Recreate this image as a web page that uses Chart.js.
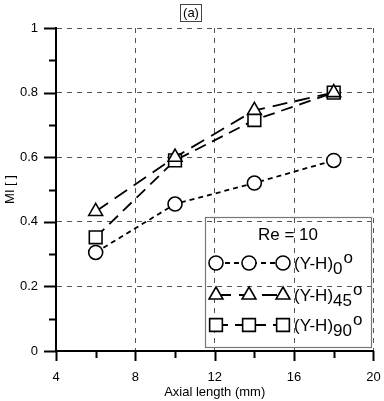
<!DOCTYPE html>
<html>
<head>
<meta charset="utf-8">
<script src="https://cdn.jsdelivr.net/npm/chart.js@4/dist/chart.umd.min.js"></script>
<style>
  html, body { margin: 0; padding: 0; background: #fff; }
  #wrap { width: 384px; height: 401px; }
</style>
</head>
<body>
<div id="wrap"><canvas id="chart" width="384" height="401"></canvas></div>
<script>
// Data
const axialLength = [6, 10, 14, 18];
const mi0 = [0.305, 0.455, 0.52, 0.59];
const mi45 = [0.432, 0.60, 0.745, 0.80];
const mi90 = [0.352, 0.59, 0.715, 0.80];
const seriesNames = ['0', '45', '90'];
const legendTitle = 'Re = 10';
const panelLabel = '(a)';

const FONT = "'Liberation Sans', Arial, sans-serif";
const styles = [
    { point: 'circle', radius: 7, dash: [5, 4] },
    { point: 'triangle', radius: 8, dash: [15, 8] },
    { point: 'rect', radius: 9, dash: [12, 7] }
];

function toPoints(ys) {
    return axialLength.map((x, i) => ({ x: x, y: ys[i] }));
}

const datasets = [mi0, mi45, mi90].map((ys, i) => ({
    label: '(Y-H)' + seriesNames[i] + 'o',
    data: toPoints(ys),
    borderColor: '#000',
    borderWidth: 1.8,
    borderDash: styles[i].dash,
    backgroundColor: '#fff',
    pointStyle: styles[i].point,
    pointRadius: styles[i].radius,
    pointBorderColor: '#000',
    pointBorderWidth: 1.6,
    pointBackgroundColor: '#fff',
    fill: false,
    tension: 0
}));

// draw a hollow marker
function marker(ctx, style, x, y, r) {
    ctx.beginPath();
    if (style === 'circle') {
        ctx.arc(x, y, r, 0, Math.PI * 2);
    } else if (style === 'triangle') {
        ctx.moveTo(x, y - r);
        ctx.lineTo(x + Math.sin(Math.PI * 2 / 3) * r, y + r / 2);
        ctx.lineTo(x - Math.sin(Math.PI * 2 / 3) * r, y + r / 2);
        ctx.closePath();
    } else {
        const s = r * Math.SQRT1_2;
        ctx.rect(x - s, y - s, 2 * s, 2 * s);
    }
    ctx.fillStyle = '#fff';
    ctx.fill();
    ctx.stroke();
}

// minor / major ticks, panel label and legend box
const extras = {
    id: 'extras',
    afterDraw(chart) {
        const ctx = chart.ctx;
        const xs = chart.scales.x, ys = chart.scales.y;
        const area = chart.chartArea;
        ctx.save();
        ctx.strokeStyle = '#000';
        ctx.lineWidth = 2;
        ctx.setLineDash([]);
        for (let i = 0; i <= 10; i++) {
            const py = Math.round(ys.getPixelForValue(i / 10)) + 0.5;
            const len = i % 2 === 0 ? 12 : 7;
            ctx.beginPath();
            ctx.moveTo(area.left - len, py);
            ctx.lineTo(area.left, py);
            ctx.stroke();
        }
        for (let v = 4; v <= 20; v += 2) {
            const px = Math.round(xs.getPixelForValue(v)) + 0.5;
            const len = v % 4 === 0 ? 10 : 7;
            ctx.beginPath();
            ctx.moveTo(px, area.bottom);
            ctx.lineTo(px, area.bottom + len);
            ctx.stroke();
        }

        // panel label
        ctx.font = '13px ' + FONT;
        ctx.fillStyle = '#000';
        ctx.textAlign = 'center';
        ctx.textBaseline = 'middle';
        ctx.fillText(panelLabel, 191, 13);
        ctx.lineWidth = 1;
        ctx.strokeStyle = '#444';
        ctx.strokeRect(180.5, 4.5, 21, 17);

        // legend box
        ctx.strokeStyle = '#777';
        ctx.lineWidth = 1.2;
        ctx.strokeRect(205.5, 217.5, 166, 130);
        ctx.font = '17px ' + FONT;
        ctx.fillStyle = '#000';
        ctx.fillText(legendTitle, 288, 235);

        const rowsY = [263, 295, 325];
        const symX = [216, 249, 283];
        styles.forEach((st, i) => {
            const y = rowsY[i];
            ctx.strokeStyle = '#000';
            ctx.lineWidth = 1.8;
            ctx.setLineDash(st.dash);
            ctx.beginPath();
            ctx.moveTo(symX[0], y);
            ctx.lineTo(symX[2], y);
            ctx.stroke();
            ctx.setLineDash([]);
            ctx.lineWidth = 1.6;
            symX.forEach(x => marker(ctx, st.point, x, y, st.radius));

            ctx.fillStyle = '#000';
            ctx.textAlign = 'left';
            ctx.textBaseline = 'alphabetic';
            ctx.font = '17px ' + FONT;
            const base = y + 6;
            ctx.fillText('(Y-H)', 294, base);
            const w = ctx.measureText('(Y-H)').width;
            ctx.fillText(seriesNames[i], 294 + w, base + 5);
            const w2 = ctx.measureText(seriesNames[i]).width;
            ctx.fillText('o', 294 + w + w2 + 1, base - 6);
        });
        ctx.restore();
    }
};

new Chart(document.getElementById('chart'), {
    type: 'line',
    data: { datasets: datasets },
    options: {
        responsive: false,
        animation: false,
        events: [],
        layout: { padding: { top: 28, right: 7, left: 0, bottom: 0 } },
        plugins: {
            legend: { display: false },
            tooltip: { enabled: false },
            title: { display: false }
        },
        scales: {
            x: {
                type: 'linear',
                min: 4,
                max: 20,
                afterFit(scale) {
                    scale.height = 50;
                    scale.paddingLeft = 0;
                    scale.paddingRight = 0;
                },
                ticks: {
                    stepSize: 4,
                    color: '#000',
                    font: { family: FONT, size: 13 },
                    padding: 19,
                    maxRotation: 0
                },
                grid: { color: '#555', lineWidth: 1, drawTicks: false },
                border: { display: true, color: '#000', width: 2, dash: [5, 5] },
                title: {
                    display: true,
                    text: 'Axial length (mm)',
                    color: '#000',
                    font: { family: FONT, size: 13 },
                    padding: { top: 0, bottom: 1 }
                }
            },
            y: {
                type: 'linear',
                min: 0,
                max: 1,
                afterFit(scale) {
                    scale.width = 56;
                    scale.paddingTop = 0;
                    scale.paddingBottom = 0;
                },
                ticks: {
                    stepSize: 0.2,
                    color: '#000',
                    font: { family: FONT, size: 13 },
                    padding: 18,
                    callback: v => String(Math.round(v * 10) / 10)
                },
                grid: { color: '#555', lineWidth: 1, drawTicks: false },
                border: { display: true, color: '#000', width: 2, dash: [5, 5] },
                title: {
                    display: true,
                    text: 'MI [ ]',
                    color: '#000',
                    font: { family: FONT, size: 13 },
                    padding: { top: 3, bottom: 0 }
                }
            }
        }
    },
    plugins: [extras]
});
</script>
</body>
</html>
